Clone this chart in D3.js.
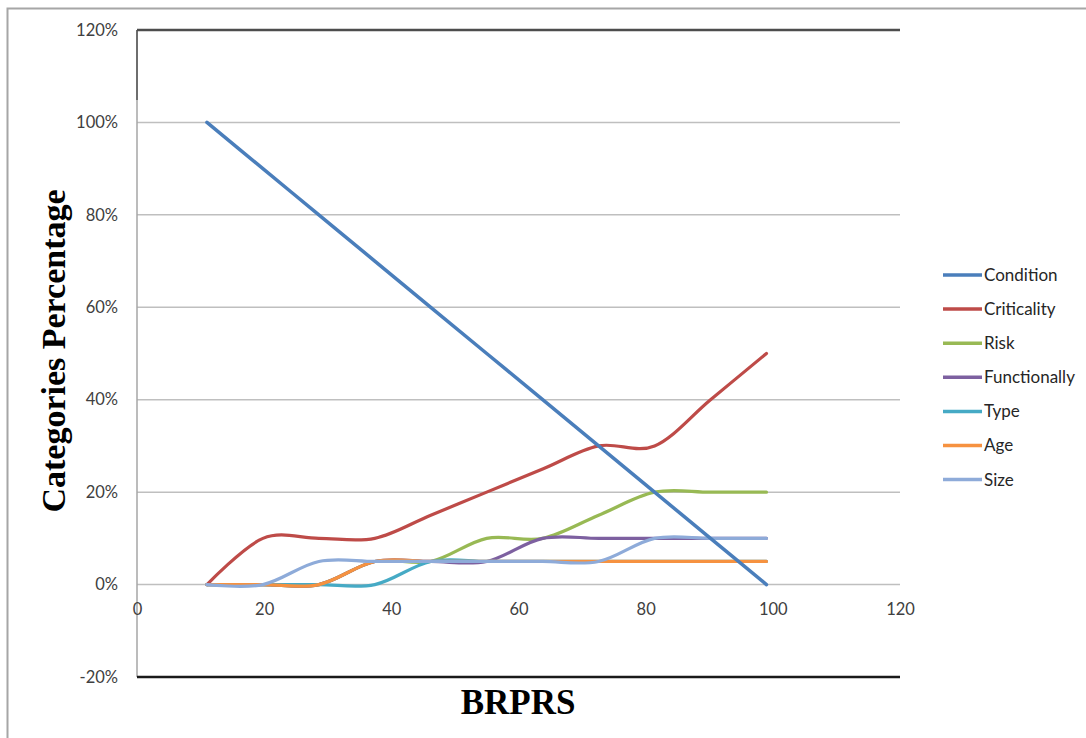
<!DOCTYPE html>
<html>
<head>
<meta charset="utf-8">
<script src="https://cdn.jsdelivr.net/npm/d3@7"></script>
<style>
  body { margin: 0; background: #fff; }
  .tick text { font-family: Lato, "Open Sans", sans-serif; fill: #404040; }
</style>
</head>
<body>
<div id="chart"></div>
<script>
// BRPRS values (x), one per row
const brprs = [11, 19.8, 28.6, 37.4, 46.2, 55, 63.8, 72.6, 81.4, 90.2, 99];

// category percentages
const condition    = [100, 90, 80, 70, 60, 50, 40, 30, 20, 10, 0];
const criticality  = [0, 10, 10, 10, 15, 20, 25, 30, 30, 40, 50];
const risk         = [0, 0, 0, 5, 5, 10, 10, 15, 20, 20, 20];
const functionally = [0, 0, 0, 5, 5, 5, 10, 10, 10, 10, 10];
const type         = [0, 0, 0, 0, 5, 5, 5, 5, 5, 5, 5];
const age          = [0, 0, 0, 5, 5, 5, 5, 5, 5, 5, 5];
const size         = [0, 0, 5, 5, 5, 5, 5, 5, 10, 10, 10];

const seriesNames = ["Condition", "Criticality", "Risk", "Functionally", "Type", "Age", "Size"];
const seriesValues = [condition, criticality, risk, functionally, type, age, size];
const seriesColors = ["#4A7EBB", "#BE4B48", "#98B954", "#7D60A0", "#46AAC5", "#F69240", "#8EABD9"];

const xTicks = [0, 20, 40, 60, 80, 100, 120];
const yTicks = [-20, 0, 20, 40, 60, 80, 100, 120];

let width = 1086;
let height = 738;

let svg = d3.select("#chart")
    .append("svg")
    .attr("width", width)
    .attr("height", height);

// outer frame of the picture
svg.append("path")
    .attr("d", "M7.5,740 V8.5 H1090")
    .attr("fill", "none")
    .attr("stroke", "#a6a6a6")
    .attr("stroke-width", 2);

let x = d3.scaleLinear().domain([0, 120]).range([137, 900]);
let y = d3.scaleLinear().domain([-20, 120]).range([677, 30]);

// gridlines
svg.append("g")
    .selectAll("line")
    .data(yTicks.filter(d => d >= 0 && d <= 100))
    .enter()
    .append("line")
    .attr("x1", x(0))
    .attr("x2", x(120))
    .attr("y1", d => y(d))
    .attr("y2", d => y(d))
    .attr("stroke", "#bfbfbf")
    .attr("stroke-width", 1.5);

// left axis line
svg.append("line")
    .attr("x1", x(0)).attr("x2", x(0))
    .attr("y1", y(120)).attr("y2", y(-20))
    .attr("stroke", "#a6a6a6")
    .attr("stroke-width", 1.5);
svg.append("line")
    .attr("x1", x(0)).attr("x2", x(0))
    .attr("y1", y(120)).attr("y2", 100)
    .attr("stroke", "#555")
    .attr("stroke-width", 1.5);

// top and bottom borders of the plot
svg.append("line")
    .attr("x1", x(0)).attr("x2", x(120))
    .attr("y1", y(120)).attr("y2", y(120))
    .attr("stroke", "#4d4d4d")
    .attr("stroke-width", 2.5);
svg.append("line")
    .attr("x1", x(0)).attr("x2", x(120))
    .attr("y1", y(-20)).attr("y2", y(-20))
    .attr("stroke", "#1a1a1a")
    .attr("stroke-width", 2.5);

// axes
let yAxis = svg.append("g")
    .attr("transform", "translate(" + x(0) + ",0)")
    .call(d3.axisLeft(y).tickValues(yTicks).tickSize(0).tickPadding(19).tickFormat(d => d + "%"));
yAxis.select(".domain").remove();
yAxis.selectAll("text").style("font-size", "16.5px");

let xAxis = svg.append("g")
    .attr("transform", "translate(0," + y(0) + ")")
    .call(d3.axisBottom(x).tickValues(xTicks).tickSize(0).tickPadding(19));
xAxis.select(".domain").remove();
xAxis.selectAll("text").style("font-size", "16.5px");

// axis titles
svg.append("text")
    .attr("transform", "translate(65,351) rotate(-90)")
    .attr("text-anchor", "middle")
    .style("font-family", "'Liberation Serif', 'Times New Roman', serif")
    .style("font-weight", "bold")
    .style("font-size", "34px")
    .attr("fill", "#000")
    .text("Categories Percentage");

svg.append("text")
    .attr("x", 518)
    .attr("y", 714)
    .attr("text-anchor", "middle")
    .style("font-family", "'Liberation Serif', 'Times New Roman', serif")
    .style("font-weight", "bold")
    .style("font-size", "35px")
    .attr("fill", "#000")
    .text("BRPRS");

// smoothed lines, like Excel's "smoothed line" scatter
let line = d3.line()
    .x(d => x(d[0]))
    .y(d => y(d[1]))
    .curve(d3.curveCardinal.tension(0));

let drawOrder = [1, 2, 3, 4, 5, 6, 0];
svg.append("g")
    .selectAll("path")
    .data(drawOrder)
    .enter()
    .append("path")
    .attr("d", i => line(brprs.map((b, k) => [b, seriesValues[i][k]])))
    .attr("fill", "none")
    .attr("stroke", i => seriesColors[i])
    .attr("stroke-width", i => i == 0 ? 3.5 : 3.2)
    .attr("stroke-linecap", "round")
    .attr("stroke-linejoin", "round");

// legend
let legend = svg.append("g")
    .selectAll("g")
    .data(seriesNames)
    .enter()
    .append("g")
    .attr("transform", (d, i) => "translate(943," + (275 + i * 34.1) + ")");

legend.append("line")
    .attr("x1", 0).attr("x2", 39)
    .attr("y1", 0).attr("y2", 0)
    .attr("stroke", (d, i) => seriesColors[i])
    .attr("stroke-width", 3.5);

legend.append("text")
    .attr("x", 41)
    .attr("y", 0)
    .attr("dy", "0.35em")
    .style("font-family", "Lato, 'Open Sans', sans-serif")
    .style("font-size", "17px")
    .attr("fill", "#262626")
    .text(d => d);
</script>
</body>
</html>
